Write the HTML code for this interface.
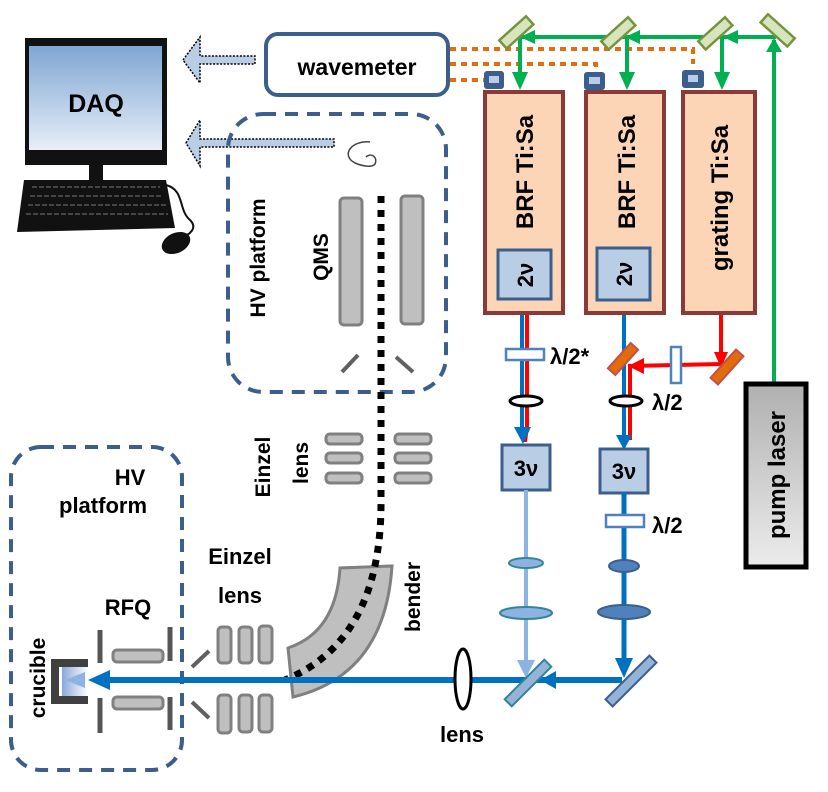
<!DOCTYPE html>
<html><head><meta charset="utf-8"><style>
html,body{margin:0;padding:0;background:#fff}
svg{display:block}
text{font-family:"Liberation Sans",sans-serif;font-weight:bold;fill:#000}
</style></head><body>
<svg width="828" height="792" viewBox="0 0 828 792" xmlns="http://www.w3.org/2000/svg">
<defs>
<linearGradient id="scr" x1="0" y1="0" x2="0" y2="1"><stop offset="0" stop-color="#7fa6d3"/><stop offset="1" stop-color="#e8eef8"/></linearGradient>
<linearGradient id="pump" x1="0" y1="0" x2="0" y2="1"><stop offset="0" stop-color="#b0b0b0"/><stop offset="1" stop-color="#ececec"/></linearGradient>
<linearGradient id="cru" x1="0" y1="0" x2="1" y2="0"><stop offset="0" stop-color="#8aa8d8"/><stop offset="1" stop-color="#ffffff"/></linearGradient>
</defs>

<!-- computer -->
<rect x="25" y="38" width="142" height="127" fill="#111"/>
<rect x="29" y="46" width="133" height="104" fill="url(#scr)"/>
<text x="96" y="112" font-size="25" text-anchor="middle">DAQ</text>
<rect x="89" y="165" width="14" height="15" fill="#111"/>
<polygon points="24,180 166,180 175,228 17,232" fill="#111"/>
<g stroke="#444" stroke-width="2" stroke-dasharray="5 2">
<line x1="32" y1="187" x2="160" y2="187"/><line x1="30" y1="196" x2="163" y2="196"/><line x1="28" y1="205" x2="166" y2="205"/><line x1="26" y1="214" x2="168" y2="214"/>
</g>
<path d="M166,185 C185,190 178,210 190,220 C198,228 190,235 180,238" fill="none" stroke="#111" stroke-width="2"/>
<ellipse cx="176" cy="243" rx="15" ry="10" fill="#111" transform="rotate(-25 176 243)"/>

<!-- dotted arrows -->
<polygon points="183,60 200,37 200,56 255,56 255,64 200,64 200,83" fill="#b9cde5" stroke="#000" stroke-width="1.5" stroke-dasharray="2 1.5"/>
<polygon points="186,143 200,120 200,139 334,139 334,147 200,147 200,166" fill="#b9cde5" stroke="#000" stroke-width="1.5" stroke-dasharray="2 1.5"/>

<!-- wavemeter -->
<rect x="266" y="34" width="182" height="61" rx="12" fill="#fff" stroke="#3b5e8c" stroke-width="4"/>
<text x="357" y="75" font-size="23" text-anchor="middle">wavemeter</text>

<!-- orange dotted -->
<g stroke="#e46c0a" stroke-width="4" stroke-dasharray="6 5" fill="none">
<polyline points="450,49 693,49 693,64"/>
<polyline points="450,64 596,64 596,72"/>
<line x1="450" y1="80" x2="484" y2="80"/>
</g>

<!-- QMS HV box -->
<rect x="228" y="114" width="218" height="278" rx="35" fill="none" stroke="#3b5e8c" stroke-width="4" stroke-dasharray="13 9"/>
<text transform="translate(265 258) rotate(-90)" font-size="21" text-anchor="middle">HV platform</text>
<text transform="translate(328 257) rotate(-90)" font-size="21" text-anchor="middle">QMS</text>
<path d="M370,142 C352,140 340,155 355,163 C362,166 372,168 375,164 C378,158 372,152 366,157" fill="none" stroke="#444" stroke-width="1.5"/>
<rect x="340" y="198" width="22" height="127" rx="4" fill="#bfbfbf" stroke="#808080" stroke-width="3"/>
<rect x="401" y="196" width="22" height="128" rx="4" fill="#bfbfbf" stroke="#808080" stroke-width="3"/>
<line x1="342" y1="372" x2="358" y2="355" stroke="#606060" stroke-width="4"/>
<line x1="396" y1="357" x2="413" y2="372" stroke="#606060" stroke-width="4"/>

<!-- upper Einzel -->
<text transform="translate(270 467) rotate(-90)" font-size="21" text-anchor="middle">Einzel</text>
<text transform="translate(308 463) rotate(-90)" font-size="21" text-anchor="middle">lens</text>
<g fill="#bfbfbf" stroke="#808080" stroke-width="3">
<rect x="326" y="434" width="36" height="10" rx="4"/><rect x="326" y="453" width="36" height="10" rx="4"/><rect x="326" y="473" width="36" height="10" rx="4"/>
<rect x="395" y="434" width="36" height="10" rx="4"/><rect x="395" y="453" width="36" height="10" rx="4"/><rect x="395" y="473" width="36" height="10" rx="4"/>
</g>

<!-- bender -->
<path d="M340,568 Q336,632 288,648 L293,697 Q385,675 392,566 Z" fill="#bfbfbf" stroke="#808080" stroke-width="3"/>
<text transform="translate(420 597) rotate(-90)" font-size="21" text-anchor="middle">bender</text>
<!-- dotted ion path -->
<path d="M381,196 L381,500 Q382,640 285,680" fill="none" stroke="#000" stroke-width="7" stroke-dasharray="7 7"/>

<!-- lower HV box -->
<rect x="11" y="447" width="171" height="323" rx="30" fill="none" stroke="#3b5e8c" stroke-width="4" stroke-dasharray="13 9"/>
<text x="130" y="485" font-size="22" text-anchor="middle">HV</text>
<text x="103" y="513" font-size="22" text-anchor="middle">platform</text>
<text x="128" y="615" font-size="22" text-anchor="middle">RFQ</text>
<text transform="translate(45 678) rotate(-90)" font-size="21" text-anchor="middle">crucible</text>
<g stroke="#555" stroke-width="5">
<line x1="100" y1="630" x2="100" y2="663"/><line x1="100" y1="698" x2="100" y2="733"/>
<line x1="170" y1="627" x2="170" y2="661"/><line x1="170" y1="697" x2="170" y2="730"/>
</g>
<rect x="113" y="650" width="50" height="12" rx="4" fill="#bfbfbf" stroke="#808080" stroke-width="3"/>
<rect x="113" y="697" width="50" height="12" rx="4" fill="#bfbfbf" stroke="#808080" stroke-width="3"/>
<path d="M88,663 L55,663 L55,700 L88,700" fill="none" stroke="#404040" stroke-width="8"/>
<rect x="62" y="667" width="26" height="29" fill="url(#cru)"/>

<!-- lower Einzel -->
<text x="240" y="564" font-size="22" text-anchor="middle">Einzel</text>
<text x="240" y="603" font-size="22" text-anchor="middle">lens</text>
<g fill="#bfbfbf" stroke="#808080" stroke-width="3">
<rect x="218" y="627" width="13" height="36" rx="4"/><rect x="239" y="627" width="13" height="36" rx="4"/><rect x="259" y="626" width="13" height="37" rx="4"/>
<rect x="218" y="695" width="13" height="38" rx="4"/><rect x="239" y="695" width="13" height="37" rx="4"/><rect x="259" y="695" width="13" height="37" rx="4"/>
</g>
<line x1="192" y1="667" x2="209" y2="651" stroke="#606060" stroke-width="4"/>
<line x1="192" y1="702" x2="209" y2="718" stroke="#606060" stroke-width="4"/>

<!-- main blue beam -->
<line x1="108" y1="680" x2="622" y2="680" stroke="#0070c0" stroke-width="6"/>
<polygon points="88,680 110,670 110,690" fill="#0070c0"/>
<polygon points="65,680 85,672 85,688" fill="#8db3e2"/>
<polygon points="540,680 556,671 556,689" fill="#0070c0"/>
<ellipse cx="463" cy="679" rx="8" ry="30" fill="#fff" stroke="#000" stroke-width="3"/>
<text x="462" y="742" font-size="22" text-anchor="middle">lens</text>

<!-- green pump lines -->
<g stroke="#00b050" stroke-width="4" fill="none">
<line x1="520" y1="37" x2="776" y2="37"/>
<line x1="774" y1="40" x2="774" y2="384"/>
<line x1="520" y1="38" x2="520" y2="74"/>
<line x1="627" y1="38" x2="627" y2="74"/>
<line x1="722" y1="38" x2="722" y2="74"/>
</g>
<g fill="#00b050">
<polygon points="520,37 535,30 535,44"/><polygon points="625,37 640,30 640,44"/><polygon points="723,37 738,30 738,44"/>
<polygon points="774,38 766,52 782,52"/>
<polygon points="520,90 512,72 528,72"/><polygon points="627,90 619,72 635,72"/><polygon points="722,90 714,72 730,72"/>
</g>
<g fill="#d7e4bd" stroke="#77933c" stroke-width="2.5">
<rect x="498" y="27" width="36" height="11" transform="rotate(-42 516 32)"/>
<rect x="600" y="28" width="36" height="11" transform="rotate(-42 618 33)"/>
<rect x="697" y="28" width="36" height="11" transform="rotate(-42 715 33)"/>
<rect x="760" y="25" width="36" height="11" transform="rotate(42 778 30)"/>
</g>

<!-- small blue squares -->
<g>
<rect x="484" y="71" width="20" height="18" rx="3" fill="#3b5e8c"/><rect x="489" y="76" width="10" height="7" fill="#b9cde5"/>
<rect x="584" y="72" width="21" height="18" rx="3" fill="#3b5e8c"/><rect x="589" y="77" width="11" height="7" fill="#b9cde5"/>
<rect x="682" y="70" width="22" height="18" rx="3" fill="#3b5e8c"/><rect x="688" y="75" width="10" height="7" fill="#b9cde5"/>
</g>

<!-- laser boxes -->
<g fill="#fbd5b5" stroke="#8b3a3a" stroke-width="4">
<rect x="485" y="92" width="78" height="221"/>
<rect x="586" y="92" width="78" height="221"/>
<rect x="683" y="92" width="72" height="221"/>
</g>
<text transform="translate(533 172) rotate(-90)" font-size="24" text-anchor="middle">BRF Ti:Sa</text>
<text transform="translate(635 172) rotate(-90)" font-size="24" text-anchor="middle">BRF Ti:Sa</text>
<text transform="translate(728 198) rotate(-90)" font-size="24" text-anchor="middle">grating Ti:Sa</text>
<g fill="#b9cde5" stroke="#3b5e8c" stroke-width="3">
<rect x="498" y="250" width="53" height="49"/>
<rect x="597" y="248" width="53" height="52"/>
</g>
<text transform="translate(533 275) rotate(-90)" font-size="22" text-anchor="middle">2ν</text>
<text transform="translate(632 274) rotate(-90)" font-size="22" text-anchor="middle">2ν</text>

<!-- path 1 -->
<line x1="522" y1="315" x2="522" y2="432" stroke="#0070c0" stroke-width="4"/>
<line x1="527" y1="315" x2="527" y2="432" stroke="#ff0000" stroke-width="4"/>
<polygon points="517,427 529,427 527,442 522,442" fill="#ff0000"/>
<polygon points="514,427 531,427 523,444" fill="#0070c0"/>
<rect x="506" y="349" width="38" height="11" fill="#fff" stroke="#4f81bd" stroke-width="2.5"/>
<text x="550" y="364" font-size="22">λ/2*</text>
<ellipse cx="526" cy="401" rx="16" ry="5" fill="#fff" stroke="#000" stroke-width="3"/>
<rect x="502" y="445" width="48" height="45" fill="#b9cde5" stroke="#3b5e8c" stroke-width="3"/>
<text x="526" y="476" font-size="22" text-anchor="middle">3ν</text>
<line x1="526" y1="490" x2="526" y2="664" stroke="#8db3e2" stroke-width="4"/>
<ellipse cx="526" cy="563" rx="17" ry="5" fill="#8db3e2" stroke="#31859c" stroke-width="2"/>
<ellipse cx="526" cy="613" rx="26" ry="6" fill="#8db3e2" stroke="#31859c" stroke-width="2"/>
<polygon points="517,660 535,660 526,678" fill="#8db3e2"/>
<rect x="500" y="678" width="56" height="10" fill="#95b3d7" stroke="#31859c" stroke-width="2" transform="rotate(-45 528 683)"/>

<!-- path 2 -->
<line x1="624" y1="315" x2="624" y2="440" stroke="#0070c0" stroke-width="4"/>
<polyline points="721,315 721,364 630,366 630,440" fill="none" stroke="#ff0000" stroke-width="4"/>
<polygon points="714,352 728,352 721,368" fill="#ff0000"/>
<polygon points="628,366 644,358 644,374" fill="#ff0000"/>
<polygon points="616,435 632,435 624,450" fill="#0070c0"/>
<rect x="606" y="354" width="34" height="10" fill="#e36c09" stroke="#c0504d" stroke-width="2" transform="rotate(-48 623 359)"/>
<rect x="708" y="362" width="38" height="10" fill="#e36c09" stroke="#c0504d" stroke-width="2" transform="rotate(-48 727 367)"/>
<rect x="671" y="347" width="10" height="36" fill="#fff" stroke="#4f81bd" stroke-width="2.5"/>
<text x="652" y="410" font-size="22">λ/2</text>
<ellipse cx="626" cy="401" rx="16" ry="5" fill="#fff" stroke="#000" stroke-width="3"/>
<rect x="600" y="449" width="48" height="44" fill="#b9cde5" stroke="#3b5e8c" stroke-width="3"/>
<text x="624" y="479" font-size="22" text-anchor="middle">3ν</text>
<line x1="624" y1="493" x2="624" y2="664" stroke="#0070c0" stroke-width="5"/>
<rect x="606" y="515" width="38" height="12" fill="#fff" stroke="#4f81bd" stroke-width="2.5"/>
<text x="652" y="533" font-size="22">λ/2</text>
<ellipse cx="624" cy="566" rx="15" ry="6" fill="#4f81bd" stroke="#3b5e8c" stroke-width="2"/>
<ellipse cx="624" cy="612" rx="26" ry="7" fill="#4f81bd" stroke="#3b5e8c" stroke-width="2"/>
<polygon points="615,658 633,658 624,678" fill="#0070c0"/>
<rect x="600" y="676" width="62" height="10" fill="#95b3d7" stroke="#3b5e8c" stroke-width="2" transform="rotate(-45 631 681)"/>

<!-- pump laser -->
<rect x="746" y="384" width="60" height="183" fill="url(#pump)" stroke="#000" stroke-width="5"/>
<text transform="translate(785 475) rotate(-90)" font-size="24" text-anchor="middle">pump laser</text>
</svg>
</body></html>
